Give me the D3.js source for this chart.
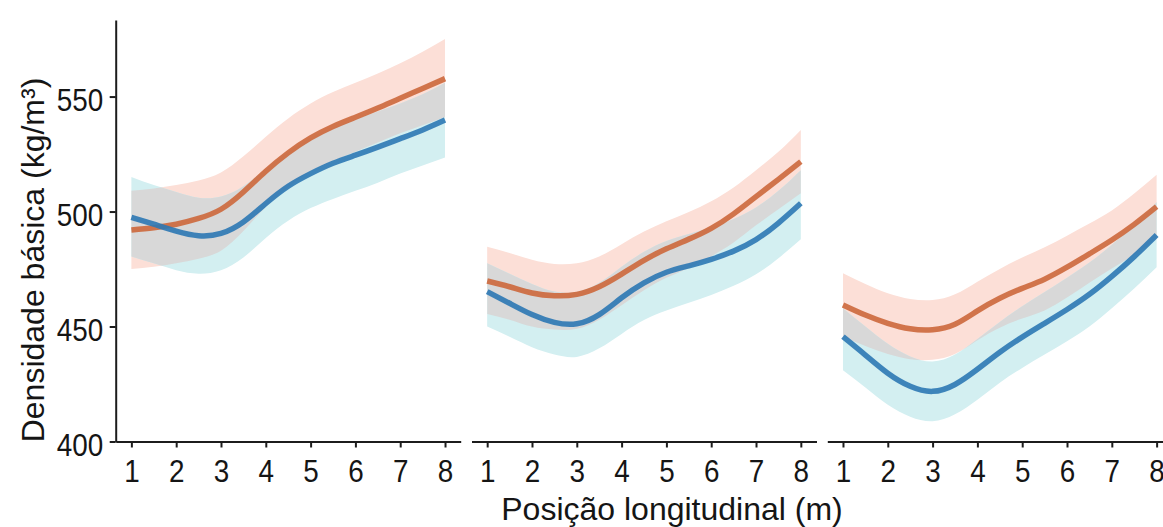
<!DOCTYPE html>
<html>
<head>
<meta charset="utf-8">
<script src="https://cdn.jsdelivr.net/npm/d3@7"></script>
<style>
  body { margin: 0; background: #fff; }
  svg { display: block; }
</style>
</head>
<body>
<svg id="chart" width="1163" height="527"></svg>
<script>
// Longitudinal positions (m) where the smoothed fits are sampled
const positions = [1, 1.5, 2, 2.5, 3, 3.5, 4, 4.5, 5, 5.5, 6, 6.5, 7, 7.5, 8];
const xTicks = [1, 2, 3, 4, 5, 6, 7, 8];
const yTicks = [400, 450, 500, 550];

// Panel 1
const p1OrangeFit = [492, 493, 494.5, 497, 501, 508.5, 517.5, 525.5, 532, 537, 541, 545, 549.3, 553.5, 557.8];
const p1OrangeHi  = [509, 510, 511.5, 513.5, 517, 524, 532.5, 540.5, 547, 552, 556, 560, 564.5, 569.5, 575];
const p1OrangeLo  = [475, 476, 477.5, 479.5, 483, 491.5, 502, 510.5, 517.5, 522, 526, 530, 534, 537.5, 541];
const p1BlueFit   = [497.5, 494.5, 491.5, 489.5, 490.5, 495.5, 503.5, 511, 516.5, 521, 524.5, 528, 531.7, 535.5, 539.8];
const p1BlueHi    = [515, 511.5, 508.5, 506, 506.5, 511, 518.5, 526, 532, 536.5, 540, 543.5, 547, 551, 556];
const p1BlueLo    = [480.5, 477.5, 474.5, 473, 474.5, 480, 488.5, 496, 501.5, 505.5, 509, 512.5, 516.5, 520, 523.5];

// Panel 2
const p2OrangeFit = [469.8, 467.3, 464.6, 463.4, 464, 467.3, 472.8, 478.8, 483.8, 488, 492.7, 499, 506.5, 514, 521.7];
const p2OrangeHi  = [484.7, 482, 479, 477.2, 477.5, 480.5, 485.8, 491.3, 495.8, 499.8, 504.5, 510.5, 518, 526, 535.5];
const p2OrangeLo  = [455.5, 453, 450, 448.7, 449, 453, 459.3, 465.8, 471.2, 475.5, 480.5, 486.5, 494, 501, 508];
const p2BlueFit   = [465.2, 460.1, 455.2, 451.8, 451.2, 455.2, 462.5, 469, 473.6, 476.4, 479.2, 482.8, 487.8, 495, 503.6];
const p2BlueHi    = [477.5, 473, 468.5, 465.2, 465, 469, 476, 482.5, 487.2, 490.2, 493.2, 496.8, 501.8, 509, 518];
const p2BlueLo    = [450, 445.5, 441, 437.8, 436.8, 440.5, 446.8, 452.8, 457, 460.3, 463.7, 467.7, 472.7, 479.7, 488];

// Panel 3
const p3OrangeFit = [459.4, 455, 451.4, 449, 448.6, 451, 456.8, 462.3, 466.6, 470.6, 475.8, 481.6, 487.6, 494.4, 502.1];
const p3OrangeHi  = [473.2, 468.5, 464.5, 462, 461.5, 464, 469.5, 475, 480, 484.5, 489.5, 494.8, 500.5, 507.8, 516];
const p3OrangeLo  = [445.6, 441.5, 438, 435.8, 435.5, 438, 444, 449.5, 453.5, 457, 462.6, 469, 475.2, 481.2, 488.2];
const p3BlueFit   = [445.6, 437.6, 429.7, 424, 421.8, 424.8, 431.4, 438.8, 445.4, 451.4, 457.4, 464, 471.8, 480.4, 489.8];
const p3BlueHi    = [458, 450, 442.5, 437, 434.8, 437.8, 444.6, 452, 458.8, 465, 471.2, 477.8, 485.6, 494.3, 504];
const p3BlueLo    = [431, 423.5, 416, 410.8, 408.8, 411.8, 418.2, 425.6, 432, 437.8, 443.6, 450, 457.9, 466.5, 475.8];

const yTitle = "Densidade básica (kg/m³)";
const xTitle = "Posição longitudinal (m)";

const panels = [
  { oFit: p1OrangeFit, oHi: p1OrangeHi, oLo: p1OrangeLo, bFit: p1BlueFit, bHi: p1BlueHi, bLo: p1BlueLo },
  { oFit: p2OrangeFit, oHi: p2OrangeHi, oLo: p2OrangeLo, bFit: p2BlueFit, bHi: p2BlueHi, bLo: p2BlueLo },
  { oFit: p3OrangeFit, oHi: p3OrangeHi, oLo: p3OrangeLo, bFit: p3BlueFit, bHi: p3BlueHi, bLo: p3BlueLo }
];

const colors = {
  orangeLine: "#cd6a3f",
  blueLine: "#2c78b4",
  orangeBand: "#fcdfd7",
  blueBand: "#d3eff1",
  overlap: "#d8d8d8",
  axis: "#1c1c1c",
  text: "#151515"
};

const svg = d3.select("#chart");
const font = "'Liberation Sans', Arial, Helvetica, sans-serif";

const plotTop = 20, plotBottom = 441.5;
const panelLeft0 = 115.7, panelStep = 355.8, panelWidth = 345;

const y = d3.scaleLinear().domain([400, 583.3]).range([plotBottom, plotTop]);

panels.forEach((p, i) => {
  const left = panelLeft0 + i * panelStep;
  const x = d3.scaleLinear().domain([0.65, 8.35]).range([left, left + panelWidth]);
  const g = svg.append("g");

  const bandRows = (lo, hi) => positions.map((pos, k) => ({ p: pos, lo: lo[k], hi: hi[k] }));
  const lineRows = (fit) => positions.map((pos, k) => ({ p: pos, v: fit[k] }));

  const area = d3.area()
    .x(d => x(d.p)).y0(d => y(d.lo)).y1(d => y(d.hi))
    .curve(d3.curveNatural);
  const line = d3.line()
    .x(d => x(d.p)).y(d => y(d.v))
    .curve(d3.curveNatural);

  const oBand = area(bandRows(p.oLo, p.oHi));
  const bBand = area(bandRows(p.bLo, p.bHi));

  g.append("path").attr("d", oBand).attr("fill", colors.orangeBand);
  g.append("path").attr("d", bBand).attr("fill", colors.blueBand);

  // overlap of the two confidence ribbons
  const clipId = "blue-band-clip-" + i;
  svg.append("clipPath").attr("id", clipId).append("path").attr("d", bBand);
  g.append("path").attr("d", oBand).attr("fill", colors.overlap).attr("clip-path", `url(#${clipId})`);

  g.append("path").attr("d", line(lineRows(p.oFit)))
    .attr("fill", "none").attr("stroke", colors.orangeLine)
    .attr("stroke-width", 5.5).attr("stroke-opacity", 0.92);
  g.append("path").attr("d", line(lineRows(p.bFit)))
    .attr("fill", "none").attr("stroke", colors.blueLine)
    .attr("stroke-width", 5.5).attr("stroke-opacity", 0.9);

  // x axis
  const xa = g.append("g")
    .attr("transform", `translate(0,${plotBottom})`)
    .call(d3.axisBottom(x).tickValues(xTicks).tickSize(6).tickSizeOuter(0).tickFormat(d3.format("d")));
  xa.select(".domain").attr("stroke", colors.axis).attr("stroke-width", 2);
  xa.selectAll(".tick line").attr("stroke", colors.axis).attr("stroke-width", 2);
  xa.selectAll(".tick text")
    .attr("y", 0).attr("dy", 0)
    .attr("transform", "translate(0,40.5) scale(0.87,1)")
    .attr("fill", colors.text)
    .style("font-family", font).style("font-size", "32px");

  if (i === 0) {
    const ya = g.append("g")
      .attr("transform", `translate(${left},0)`)
      .call(d3.axisLeft(y).tickValues(yTicks).tickSize(6).tickSizeOuter(0));
    ya.select(".domain").attr("stroke", colors.axis).attr("stroke-width", 2);
    ya.selectAll(".tick line").attr("stroke", colors.axis).attr("stroke-width", 2);
    ya.selectAll(".tick text")
      .attr("x", 0).attr("dy", 0)
      .attr("transform", "translate(-12.5,13.8) scale(0.87,1)")
      .attr("fill", colors.text)
      .style("font-family", font).style("font-size", "32px");
  }
});

// axis titles
svg.append("text")
  .attr("transform", "translate(43.5,260) rotate(-90)")
  .attr("text-anchor", "middle")
  .attr("fill", colors.text)
  .style("font-family", font).style("font-size", "32px")
  .text(yTitle);

svg.append("text")
  .attr("x", 672).attr("y", 520)
  .attr("text-anchor", "middle")
  .attr("fill", colors.text)
  .style("font-family", font).style("font-size", "32px")
  .text(xTitle);
</script>
</body>
</html>
